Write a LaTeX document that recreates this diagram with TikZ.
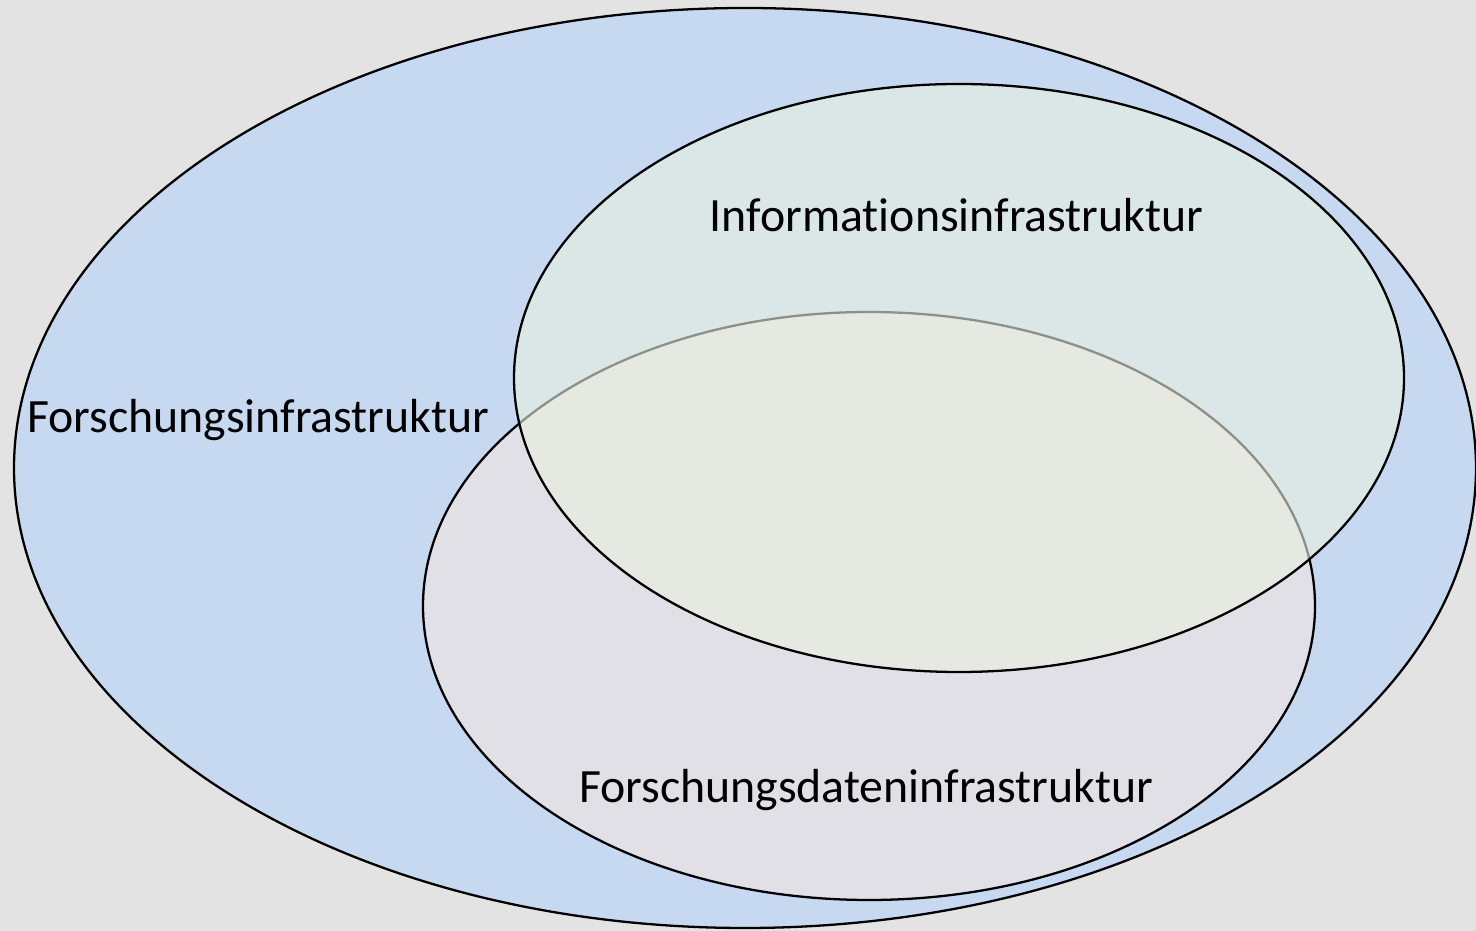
\documentclass[tikz,border=0pt]{standalone}
\usepackage{fontspec}
\setmainfont[RawFeature=-liga]{Carlito}
\usepackage{xcolor}
\definecolor{photogray}{HTML}{E3E3E3}
\definecolor{forschblue}{HTML}{C6D9F1}
\definecolor{datengray}{HTML}{E1E0E6}
\definecolor{infogreen}{HTML}{EAF0E0}
\tikzset{
	menge/.style={draw=black,line width=1.3pt},
	label/.style={font=\fontsize{27.2}{32}\selectfont,inner sep=0pt}
}

\begin{document}
\begin{tikzpicture}
\useasboundingbox (0,0) rectangle (29.52,18.62);
\fill[photogray] (0,0) rectangle (29.52,18.62);
% Mengen
\draw[menge,fill=forschblue] (14.90,9.26) ellipse [x radius=14.62cm,y radius=9.20cm];
\draw[menge,fill=datengray] (17.38,6.50) ellipse [x radius=8.92cm,y radius=5.88cm];
\draw[menge,fill=infogreen,fill opacity=0.6] (19.18,11.06) ellipse [x radius=8.90cm,y radius=5.88cm];
% Beschriftungen
\node[label] (forsch) at (5.16,10.22) {Forschungsinfrastruktur};
\node[label] (info) at (19.13,14.32) {Informationsinfrastruktur};
\node[label] (daten) at (17.32,2.82) {Forschungsdateninfrastruktur};
\end{tikzpicture}
\end{document}
